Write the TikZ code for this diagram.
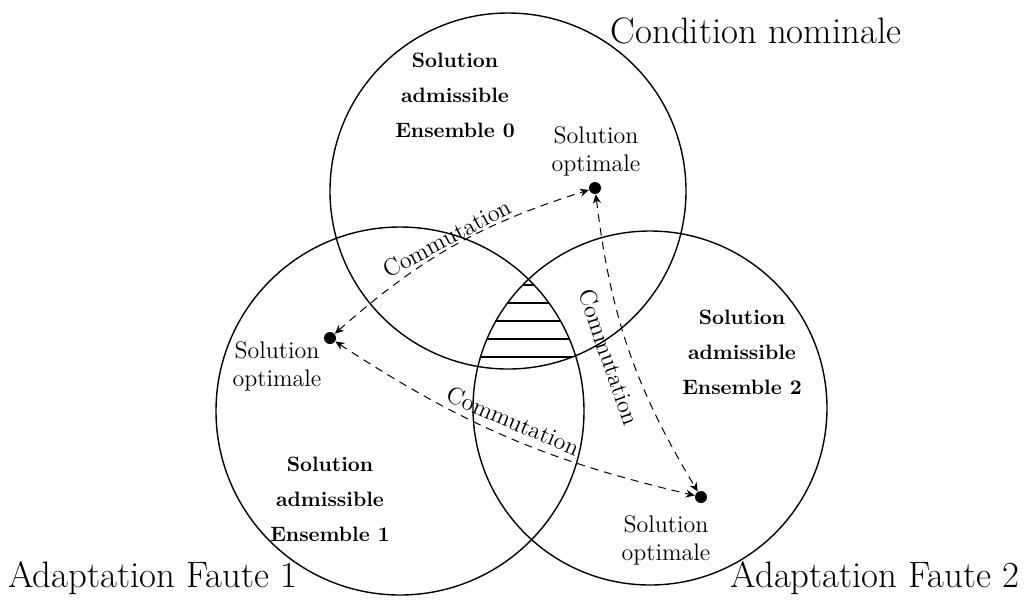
\documentclass[tikz,border=0pt]{standalone}
\usetikzlibrary{arrows.meta}
\begin{document}
\begin{tikzpicture}[x=0.5pt,y=0.5pt,
  ring/.style={line width=0.7pt},
  dot/.style={circle,fill=black,inner sep=0pt,minimum size=6pt},
  sw/.style={dashed,dash pattern=on 4pt off 3pt,line width=0.5pt,{Stealth[length=4.5pt,width=4pt]}-{Stealth[length=4.5pt,width=4pt]}},
  hatch/.style={line width=0.6pt},
  opt/.style={align=center,font=\fontsize{12}{14}\selectfont,inner sep=0pt},
  adm/.style={align=center,font=\fontsize{10.4}{17.5}\selectfont\bfseries,inner sep=0pt},
  big/.style={font=\fontsize{18.4}{20}\selectfont,inner sep=0pt},
  comm/.style={font=\fontsize{12}{14}\selectfont,inner sep=0pt}]
\useasboundingbox (0,0) rectangle (1025,-601);
% circles
\draw[ring] (508,-191) circle [radius=178];
\draw[ring] (400,-411) circle [radius=184];
\draw[ring] (650,-408) circle [radius=177];
% hatched triple intersection
\begin{scope}
  \clip (508,-191) circle [radius=178];
  \clip (400,-411) circle [radius=184];
  \clip (650,-408) circle [radius=177];
  \foreach \yy in {285,303,321,339,357}
    \draw[hatch] (440,-\yy) -- (640,-\yy);
\end{scope}
% dots
\node[dot] (dT) at (595,-188) {};
\node[dot] (dL) at (330,-338) {};
\node[dot] (dB) at (701,-497) {};
% connectors
\draw[sw] (dL) to[bend left=12] (dT);
\draw[sw] (dL) to[bend right=10] (dB);
\draw[sw] (dT) to[bend right=12] (dB);
% commutation labels
\node[comm,rotate=28] (c1) at (447,-238) {Commutation};
\node[comm,rotate=-71] (c2) at (609,-357) {Commutation};
\node[comm,rotate=-23] (c3) at (513,-421) {Commutation};
% solution optimale labels
\node[opt] (o1) at (596,-151) {Solution\\optimale};
\node[opt] (o2) at (277,-366) {Solution\\optimale};
\node[opt] (o3) at (666,-540) {Solution\\optimale};
% admissible sets
\node[adm] (a0) at (455,-95) {Solution\\admissible\\Ensemble 0};
\node[adm] (a2) at (742,-352) {Solution\\admissible\\Ensemble 2};
\node[adm] (a1) at (330,-499) {Solution\\admissible\\Ensemble 1};
% titles
\node[big] (t0) at (756,-31) {Condition nominale};
\node[big,anchor=west] (t1) at (8,-578) {Adaptation Faute 1};
\node[big,anchor=east] (t2) at (1020,-578) {Adaptation Faute 2};
\end{tikzpicture}
\end{document}
